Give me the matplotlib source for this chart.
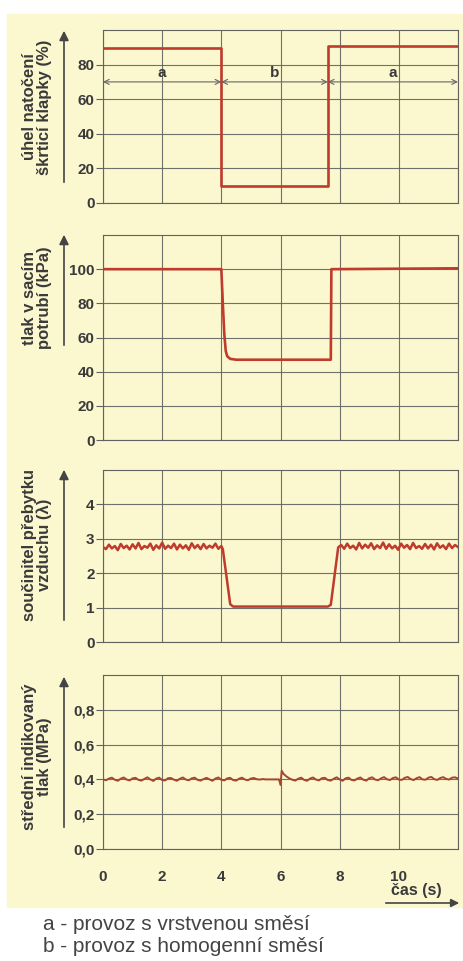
import matplotlib
matplotlib.use('Agg')
import matplotlib.pyplot as plt
import numpy as np
from matplotlib.patches import Rectangle, FancyArrowPatch

plt.rcParams['font.family'] = ['Liberation Sans', 'DejaVu Sans']

# ---- data ----
# throttle opening (%)
thr_t = [0.0, 4.0, 4.0, 7.6, 7.6, 12.0]
thr_v = [89.5, 89.5, 10.0, 10.0, 90.5, 90.5]

# intake manifold pressure (kPa)
pman_t = [0.0, 4.0, 4.05, 4.1, 4.15, 4.2, 4.3, 4.5, 7.7, 7.72, 12.0]
pman_v = [100, 100, 80, 62, 52, 49, 47.5, 47, 47, 100, 100.5]

# excess air ratio lambda
lam_a1 = [2.76, 2.70, 2.83, 2.72, 2.79, 2.67, 2.85, 2.73, 2.80, 2.69, 2.84, 2.72, 2.88, 2.70,
          2.79, 2.74, 2.86, 2.68, 2.81, 2.72, 2.89, 2.71, 2.80, 2.73, 2.86, 2.69, 2.83, 2.72,
          2.81, 2.68, 2.87, 2.73, 2.82, 2.70, 2.85, 2.72, 2.80, 2.74, 2.86, 2.71, 2.79]
lam_b_t = [4.0, 4.05, 4.3, 4.4, 7.6, 7.7, 7.95]
lam_b = [2.79, 2.70, 1.10, 1.03, 1.03, 1.08, 2.75]
lam_a2 = [2.75, 2.82, 2.71, 2.86, 2.73, 2.80, 2.69, 2.88, 2.72, 2.83, 2.74, 2.87, 2.70, 2.81,
          2.73, 2.89, 2.71, 2.84, 2.72, 2.80, 2.68, 2.86, 2.74, 2.82, 2.70, 2.88, 2.73, 2.79,
          2.71, 2.85, 2.72, 2.83, 2.69, 2.87, 2.74, 2.81, 2.70, 2.86, 2.73, 2.82, 2.76]

# mean indicated pressure (MPa)
pmi_a1 = [0.400, 0.395, 0.405, 0.410, 0.398, 0.392, 0.404, 0.411, 0.399, 0.394, 0.406, 0.409,
          0.397, 0.393, 0.403, 0.412, 0.400, 0.391, 0.405, 0.410, 0.396, 0.394, 0.407, 0.408,
          0.398, 0.392, 0.404, 0.411, 0.399, 0.395, 0.406, 0.410, 0.397, 0.393, 0.402, 0.409,
          0.400, 0.392, 0.405, 0.411, 0.398, 0.394, 0.406, 0.409, 0.396, 0.393, 0.404, 0.410,
          0.399, 0.395, 0.405, 0.408, 0.401, 0.399, 0.402]
pmi_b_t = [5.5, 5.95, 6.0, 6.04, 6.1, 6.2, 6.3, 6.4]
pmi_b = [0.400, 0.400, 0.368, 0.450, 0.432, 0.417, 0.406, 0.398]
pmi_a2 = [0.393, 0.404, 0.410, 0.397, 0.392, 0.405, 0.411, 0.399, 0.394, 0.407, 0.409, 0.396,
          0.393, 0.404, 0.412, 0.400, 0.392, 0.406, 0.410, 0.397, 0.394, 0.405, 0.411, 0.398,
          0.393, 0.407, 0.412, 0.399, 0.395, 0.406, 0.413, 0.401, 0.396, 0.408, 0.412, 0.399,
          0.397, 0.409, 0.414, 0.402, 0.396, 0.407, 0.413, 0.400, 0.398, 0.410, 0.414, 0.401,
          0.397, 0.408, 0.413, 0.403, 0.399, 0.410, 0.412, 0.405]

ylabels = ['úhel natočení\nškrticí klapky (%)',
           'tlak v sacím\npotrubí (kPa)',
           'součinitel přebytku\nvzduchu (λ)',
           'střední indikovaný\ntlak (MPa)']
yticks = [[0, 20, 40, 60, 80], [0, 20, 40, 60, 80, 100], [0, 1, 2, 3, 4], [0.0, 0.2, 0.4, 0.6, 0.8]]
ytlabels = [None, None, None, ['0,0', '0,2', '0,4', '0,6', '0,8']]
ylims = [(0, 100), (0, 120), (0, 5), (0, 1.0)]
xticks = [0, 2, 4, 6, 8, 10]
phases = [('a', 0.0, 4.0), ('b', 4.0, 7.6), ('a', 7.6, 12.0)]
caption = ['a - provoz s vrstvenou směsí', 'b - provoz s homogenní směsí']

# ---- layout ----
W, H = 464, 961
bg = '#fbf7cf'
txt = '#3a3a3a'
gridc = '#626260'
red = '#bf3b2c'

fig = plt.figure(figsize=(W / 100, H / 100), dpi=100)
fig.patches.append(Rectangle((7 / W, 1 - 907 / H), (W - 7) / W, 893 / H,
                             transform=fig.transFigure, color=bg, zorder=-5))

# (top px, bottom px) of each panel
boxes = [(30, 203), (235, 440), (470, 642), (675, 849)]
label_y = [107, 298, 545, 757]
arrows = [(185, 28), (348, 232), (623, 467), (830, 674)]
left, right = 103, 458

axes = []
for i, (top, bot) in enumerate(boxes):
    ax = fig.add_axes([left / W, 1 - bot / H, (right - left) / W, (bot - top) / H])
    ax.set_facecolor('none')
    ax.set_xlim(0, 12)
    ax.set_ylim(*ylims[i])
    ax.set_xticks(np.arange(0, 13, 2))
    ax.set_yticks(yticks[i])
    if ytlabels[i] is not None:
        ax.set_yticklabels(ytlabels[i])
    ax.grid(True, color=gridc, lw=0.8, alpha=0.9)
    for s in ax.spines.values():
        s.set_color(gridc)
        s.set_linewidth(0.8)
    ax.tick_params(axis='y', length=5, width=0.8, color=gridc, pad=1,
                   labelsize=11, labelcolor=txt)
    ax.tick_params(axis='x', length=0, labelsize=11, labelcolor=txt, pad=15)
    for lab in ax.get_yticklabels():
        lab.set_fontweight('bold')
    if i < 3:
        ax.set_xticklabels([])
    else:
        ax.set_xticklabels([str(v) if v in xticks else '' for v in range(0, 13, 2)])
        for lab in ax.get_xticklabels():
            lab.set_fontweight('bold')
    fig.text(37 / W, 1 - label_y[i] / H, ylabels[i], rotation=90, ha='center', va='center',
             fontsize=12, fontweight='bold', color=txt, multialignment='center',
             linespacing=1.0)
    y0, y1 = arrows[i]
    fig.patches.append(FancyArrowPatch((64 / W, 1 - y0 / H), (64 / W, 1 - y1 / H),
                                       transform=fig.transFigure, arrowstyle='-|>',
                                       mutation_scale=14, color='#444444', lw=1.2))
    axes.append(ax)

ax1, ax2, ax3, ax4 = axes

ax1.plot(thr_t, thr_v, color=red, lw=1.9, zorder=3)
for name, a, b in phases:
    ax1.annotate('', xy=(a, 70), xytext=(b, 70),
                 arrowprops=dict(arrowstyle='<->', color='#666666', lw=0.8,
                                 mutation_scale=9, shrinkA=0, shrinkB=0))
    ax1.text((a + b) / 2, 71, name, ha='center', va='bottom', fontsize=11,
             fontweight='bold', color=txt)

ax2.plot(pman_t, pman_v, color=red, lw=1.9, zorder=3)

lam_t = np.concatenate([np.linspace(0, 4.0, len(lam_a1)), lam_b_t,
                        np.linspace(7.95, 12.0, len(lam_a2))])
lam_v = np.concatenate([lam_a1, lam_b, lam_a2])
ax3.plot(lam_t, lam_v, color=red, lw=1.8, zorder=3)

pmi_t = np.concatenate([np.linspace(0, 5.4, len(pmi_a1)), pmi_b_t,
                        np.linspace(6.5, 12.0, len(pmi_a2))])
pmi_v = np.concatenate([pmi_a1, pmi_b, pmi_a2])
ax4.plot(pmi_t, pmi_v, color='#a5472e', lw=1.4, zorder=3)

# time axis label and arrow
fig.text(416 / W, 1 - 891 / H, 'čas (s)', ha='center', va='center', fontsize=11.5,
         fontweight='bold', color=txt)
fig.patches.append(FancyArrowPatch((383 / W, 1 - 903 / H), (462 / W, 1 - 903 / H),
                                   transform=fig.transFigure, arrowstyle='-|>',
                                   mutation_scale=12, color='#444444', lw=1.2))

for k, line in enumerate(caption):
    fig.text(43 / W, 1 - (925 + 21 * k) / H, line, ha='left', va='center',
             fontsize=15, color='#444444')

fig.savefig('out.png', dpi=100)
